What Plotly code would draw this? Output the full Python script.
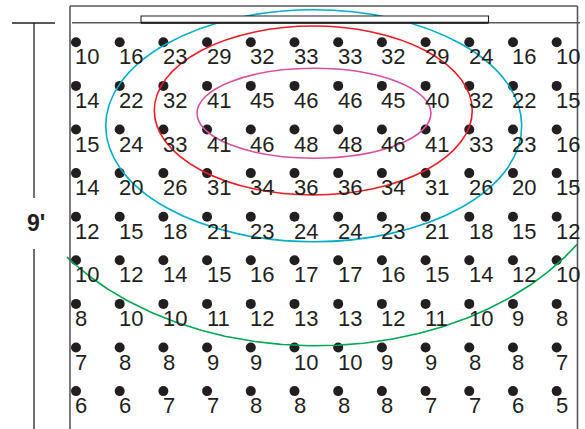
import numpy as np
import plotly.graph_objects as go

# Illuminance grid values (rows top -> bottom, columns left -> right)
row0 = [10, 16, 23, 29, 32, 33, 33, 32, 29, 24, 16, 10]
row1 = [14, 22, 32, 41, 45, 46, 46, 45, 40, 32, 22, 15]
row2 = [15, 24, 33, 41, 46, 48, 48, 46, 41, 33, 23, 16]
row3 = [14, 20, 26, 31, 34, 36, 36, 34, 31, 26, 20, 15]
row4 = [12, 15, 18, 21, 23, 24, 24, 23, 21, 18, 15, 12]
row5 = [10, 12, 14, 15, 16, 17, 17, 16, 15, 14, 12, 10]
row6 = [8, 10, 10, 11, 12, 13, 13, 12, 11, 10, 9, 8]
row7 = [7, 8, 8, 9, 9, 10, 10, 9, 9, 8, 8, 7]
row8 = [6, 6, 7, 7, 8, 8, 8, 8, 7, 7, 6, 5]
rows = [row0, row1, row2, row3, row4, row5, row6, row7, row8]

dim_label = "9'"

# contour ellipses: (cx, cy, a, b) in grid units
ell_magenta = (5.446, 1.628, 2.677, 1.032)
ell_red = (5.43, 1.564, 3.638, 1.938)
ell_cyan = (5.44, 1.915, 4.76, 2.66)
ell_green = (5.49, 2.01, 7.05, 4.95)

INK = "#231f20"
FRAME = "#58595b"

fig = go.Figure()

xs, ys = [], []
for j, r in enumerate(rows):
    for i, v in enumerate(r):
        xs.append(i)
        ys.append(j)
fig.add_trace(go.Scatter(x=xs, y=ys, mode="markers",
                         marker=dict(size=10, color=INK), hoverinfo="skip",
                         showlegend=False))

ann = []
for j, r in enumerate(rows):
    for i, v in enumerate(r):
        ann.append(dict(x=i, y=j, text=str(v), showarrow=False,
                        xanchor="left", yanchor="middle", xshift=-2.5, yshift=-14.5,
                        font=dict(family="Liberation Sans, Arial", size=22, color=INK)))

# dimension label
ann.append(dict(x=35.5, y=223.3, xref="x2", yref="y2", text="<b>" + dim_label + "</b>",
                showarrow=False, xanchor="center", yanchor="middle",
                font=dict(family="Liberation Sans Narrow, Liberation Sans", size=23, color=INK)))

shapes = []
for (cx, cy, a, b), col in [(ell_magenta, "#d9509f"), (ell_red, "#ed1c24"), (ell_cyan, "#00aec7")]:
    shapes.append(dict(type="circle", xref="x", yref="y", x0=cx - a, x1=cx + a,
                       y0=cy - b, y1=cy + b, line=dict(color=col, width=1.6)))

# green arc (lower part of ellipse within frame)
cx, cy, a, b = ell_green
t = np.linspace(0, np.pi, 400)
gx = cx + a * np.cos(t)
gy = cy + b * np.sin(t)
mask = (gx >= -0.23) & (gx <= 11.49)
fig.add_trace(go.Scatter(x=gx[mask], y=gy[mask], mode="lines",
                         line=dict(color="#00a651", width=1.6), hoverinfo="skip",
                         showlegend=False))

# frame and wall (pixel coords on overlay axes)
px_lines = [
    (70, 6, 70, 429, FRAME, 1.6),
    (70, 6, 577.5, 6, FRAME, 1.6),
    (577.5, 6, 577.5, 429, FRAME, 1.6),
    (72, 22.7, 580, 22.7, FRAME, 1.6),
    (12, 23, 55, 23, INK, 1.3),
    (34, 23, 34, 198, INK, 1.3),
    (34, 249, 34, 429, INK, 1.3),
]
for x0, y0, x1, y1, c, w in px_lines:
    shapes.append(dict(type="line", xref="x2", yref="y2", x0=x0, y0=y0, x1=x1, y1=y1,
                       line=dict(color=c, width=w)))
shapes.append(dict(type="rect", xref="x2", yref="y2", x0=141, y0=16, x1=488.5, y1=22.7,
                   line=dict(color=INK, width=1.1), fillcolor="white"))
shapes.append(dict(type="line", xref="x2", yref="y2", x0=141, y0=22.7, x1=488.5, y1=22.7,
                   line=dict(color=INK, width=2)))

fig.update_layout(
    width=585, height=429,
    margin=dict(l=0, r=0, t=0, b=0),
    paper_bgcolor="white", plot_bgcolor="white",
    xaxis=dict(range=[-1.739, 11.648], visible=False, fixedrange=True),
    yaxis=dict(range=[8.869, -0.970], visible=False, fixedrange=True),
    xaxis2=dict(range=[0, 585], visible=False, overlaying="x"),
    yaxis2=dict(range=[429, 0], visible=False, overlaying="y"),
    shapes=shapes,
    annotations=ann,
    showlegend=False,
)
# dummy trace to activate overlay axes
fig.add_trace(go.Scatter(x=[0], y=[0], xaxis="x2", yaxis="y2", mode="markers",
                         marker=dict(size=0.1, opacity=0), hoverinfo="skip", showlegend=False))

fig.write_html("out.html", config={"displayModeBar": False},
               post_script="document.body.style.margin='0px';document.body.style.overflow='hidden';")
